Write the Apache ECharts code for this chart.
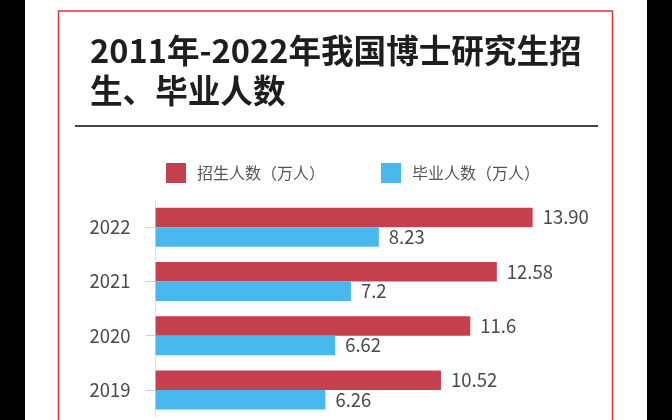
<!DOCTYPE html>
<html>
<head>
<meta charset="utf-8">
<script src="https://cdn.jsdelivr.net/npm/echarts@6/dist/echarts.min.js"></script>
<style>
html,body{margin:0;padding:0;background:#fff;}
#chart{width:672px;height:420px;}
</style>
</head>
<body>
<div id="chart"></div>
<script>
// ---- data ----
const years = ['2022', '2021', '2020', '2019'];
const enrollment = [13.90, 12.58, 11.6, 10.52];          // 招生人数（万人）
const enrollmentLabels = ['13.90', '12.58', '11.6', '10.52'];
const graduates = [8.23, 7.2, 6.62, 6.26];               // 毕业人数（万人）
const graduateLabels = ['8.23', '7.2', '6.62', '6.26'];
const seriesNames = ['招生人数（万人）', '毕业人数（万人）'];
const titleText = '2011年-2022年我国博士研究生招\n生、毕业人数';

const FONT = '"Noto Sans CJK SC", "Noto Sans", sans-serif';
const chart = echarts.init(document.getElementById('chart'), null, { renderer: 'canvas' });

const option = {
  backgroundColor: '#ffffff',
  animation: false,
  title: {
    text: titleText,
    left: 85,
    top: 26,
    textStyle: { fontFamily: FONT, fontSize: 32.6, fontWeight: 'bold', color: '#1e1e1e', lineHeight: 40 }
  },
  legend: {
    left: 161,
    top: 158,
    icon: 'rect',
    itemWidth: 20,
    itemHeight: 20,
    itemGap: 56,
    textStyle: { fontFamily: FONT, fontSize: 16, color: '#555', padding: [0, 0, 0, 6] },
    data: seriesNames
  },
  grid: { left: 155.6, right: 82.4, top: 200, bottom: 3, containLabel: false },
  xAxis: { type: 'value', min: 0, max: 16, show: false },
  yAxis: {
    type: 'category',
    data: years,
    inverse: true,
    offset: 5,
    axisLine: { show: true, lineStyle: { color: '#e0e0e0', width: 1 } },
    axisTick: { show: true, alignWithLabel: true, length: 10, lineStyle: { color: '#d0d0d0' } },
    axisLabel: { margin: 20, fontFamily: FONT, fontSize: 18.5, color: '#4a4a4a' }
  },
  series: [
    {
      name: seriesNames[0],
      type: 'bar',
      data: enrollment,
      barWidth: 19.5,
      barGap: '0%',
      itemStyle: { color: '#c5404e' },
      label: {
        show: true, position: 'right', distance: 10,
        fontFamily: FONT, fontSize: 18.5, color: '#4a4a4a',
        formatter: p => enrollmentLabels[p.dataIndex]
      }
    },
    {
      name: seriesNames[1],
      type: 'bar',
      data: graduates,
      barWidth: 19.5,
      itemStyle: { color: '#48b8ee' },
      label: {
        show: true, position: 'right', distance: 10,
        fontFamily: FONT, fontSize: 18.5, color: '#4a4a4a',
        formatter: p => graduateLabels[p.dataIndex]
      }
    }
  ],
  graphic: [
    { type: 'rect', shape: { x: 0, y: 0, width: 25, height: 420 }, style: { fill: '#000' }, z: 100 },
    { type: 'rect', shape: { x: 647, y: 0, width: 25, height: 420 }, style: { fill: '#000' }, z: 100 },
    { type: 'polyline', shape: { points: [[58.5, 430], [58.5, 11], [612.5, 11], [612.5, 430]] },
      style: { stroke: '#d8333b', lineWidth: 1.5, fill: null }, z: 100 },
    { type: 'line', shape: { x1: 75, y1: 126, x2: 598, y2: 126 }, style: { stroke: '#444', lineWidth: 2 }, z: 100 }
  ]
};
chart.setOption(option);
</script>
</body>
</html>
